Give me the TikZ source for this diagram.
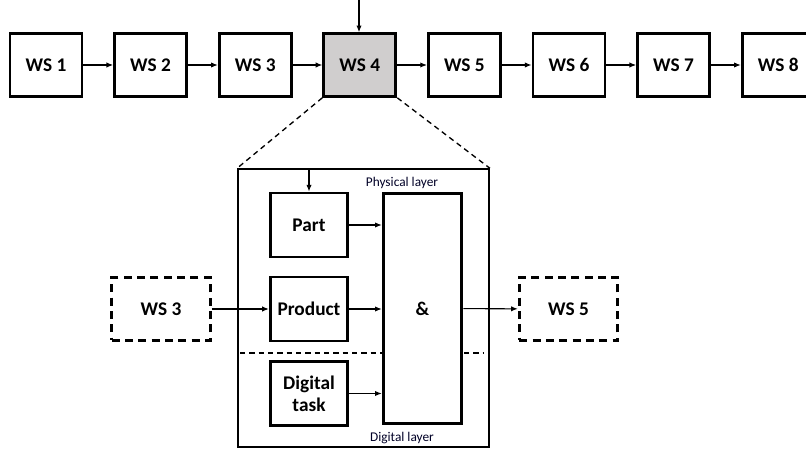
\documentclass[tikz,border=0pt]{standalone}
\usepackage{fontspec}
\setmainfont{Carlito}
\usetikzlibrary{arrows.meta}

\tikzset{every picture/.style={line width=0.75pt}}
\tikzset{
  ws/.style={draw, line width=2.2pt, minimum width=54pt, minimum height=47pt, inner sep=0pt, font=\fontsize{14.5}{16.5}\selectfont\bfseries},
  wsdash/.style={ws, dash pattern=on 6pt off 4pt, minimum width=74pt},
  inbox/.style={ws, minimum width=58pt, minimum height=48pt, align=center},
  arr/.style={-{Latex[length=5pt,width=4pt]}, line width=0.8pt},
  zoomline/.style={dash pattern=on 4pt off 3pt, line width=1pt},
  layertext/.style={font=\fontsize{10}{11}\selectfont, text=black!85!blue, inner sep=0.75pt}
}

\begin{document}
\begin{tikzpicture}[x=0.75pt,y=0.75pt,yscale=-1,xscale=1]
    \useasboundingbox (0,0) rectangle (806,449);

    % Line of work stations
    \foreach \i in {1,...,8}
      \node[ws] (ws\i) at ({46+104.6*(\i-1)},65) {WS \i};
    \path (ws4) node[ws, fill={rgb,255:red,208; green,206; blue,206}] {WS 4};
    \foreach \i [evaluate=\i as \j using int(\i+1)] in {1,...,7}
      \draw[arr] (ws\i) -- (ws\j);

    % Input from above
    \coordinate (top4) at (359,0);
    \draw[arr] (top4) -- (ws4.north -| top4);

    % Detail of WS 4
    \node[draw, line width=1.6pt, minimum width=188pt, minimum height=208pt] (detail) at (363.5,308) {};
    \draw[zoomline] (ws4.south west) -- (detail.north west);
    \draw[zoomline] (ws4.south east) -- (detail.north east);

    % Layer border
    \coordinate (layerL) at (240,353);
    \coordinate (layerR) at (484,353);
    \draw[dashed, line width=1pt, dash pattern=on 4pt off 3pt] (layerL) -- (layerR);

    \node[inbox] (part) at (309,225) {Part};
    \node[inbox] (product) at (309,309) {Product};
    \node[inbox] (task) at (309,393.5) {Digital\\task};
    \node[ws, fill=white, minimum width=59pt, minimum height=173pt] (and) at (422.5,308.5) {\&};

    \draw[arr] (part.north |- detail.north) -- (part.north);
    \draw[arr] (part) -- (part -| and.west);
    \draw[arr] (product) -- (product -| and.west);
    \draw[arr] (task) -- (task -| and.west);

    % Neighbour stations
    \node[wsdash] (prev) at (161,309) {WS 3};
    \node[wsdash] (next) at (568.5,309) {WS 5};
    \draw[arr] (prev) -- (product);
    \draw[arr] (and) -- (next);

    % Text Node
    \node[layertext] (phys) at (402,183) {Physical layer};
    % Text Node
    \node[layertext] (dig) at (402,438) {Digital layer};
\end{tikzpicture}
\end{document}
